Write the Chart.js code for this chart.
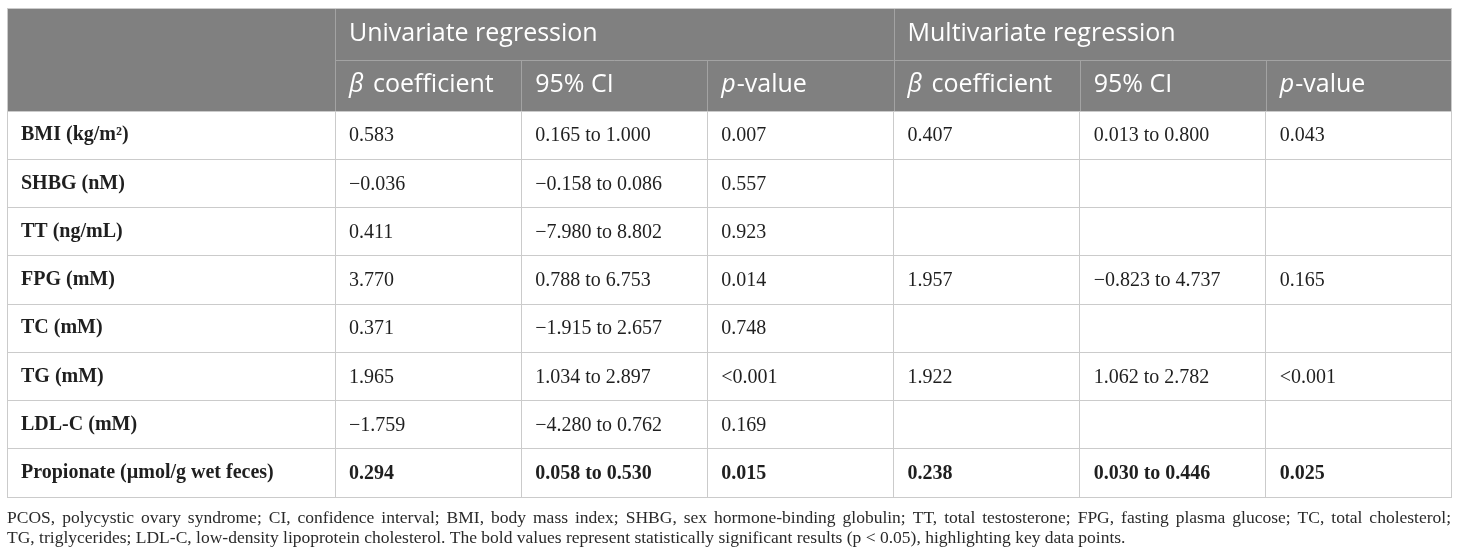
<!DOCTYPE html>
<html>
<head>
<meta charset="utf-8">
<title>Regression table</title>
<script src="https://cdn.jsdelivr.net/npm/chart.js@4.4.1/dist/chart.umd.min.js"></script>
<style>
  html, body { margin: 0; padding: 0; background: #fff; }
  #wrap { width: 1460px; height: 559px; position: relative; }
</style>
</head>
<body>
<div id="wrap"><canvas id="regTable"></canvas></div>
<script>
// Table content
const groupHeaders = ['Univariate regression', 'Multivariate regression'];
const colHeaders = ['β coefficient', '95% CI', 'p-value', 'β coefficient', '95% CI', 'p-value'];
const rowLabels = ['BMI (kg/m²)', 'SHBG (nM)', 'TT (ng/mL)', 'FPG (mM)', 'TC (mM)', 'TG (mM)', 'LDL-C (mM)', 'Propionate (µmol/g wet feces)'];

const uniBeta = ['0.583', '−0.036', '0.411', '3.770', '0.371', '1.965', '−1.759', '0.294'];
const uniCI = ['0.165 to 1.000', '−0.158 to 0.086', '−7.980 to 8.802', '0.788 to 6.753', '−1.915 to 2.657', '1.034 to 2.897', '−4.280 to 0.762', '0.058 to 0.530'];
const uniP = ['0.007', '0.557', '0.923', '0.014', '0.748', '<0.001', '0.169', '0.015'];
const multiBeta = ['0.407', null, null, '1.957', null, '1.922', null, '0.238'];
const multiCI = ['0.013 to 0.800', null, null, '−0.823 to 4.737', null, '1.062 to 2.782', null, '0.030 to 0.446'];
const multiP = ['0.043', null, null, '0.165', null, '<0.001', null, '0.025'];

// rows printed in bold (significant)
const boldRows = [7];

const footnote = [
  'PCOS, polycystic ovary syndrome; CI, confidence interval; BMI, body mass index; SHBG, sex hormone-binding globulin; TT, total testosterone; FPG, fasting plasma glucose; TC, total cholesterol;',
  'TG, triglycerides; LDL-C, low-density lipoprotein cholesterol. The bold values represent statistically significant results (p < 0.05), highlighting key data points.'
];

const columns = [uniBeta, uniCI, uniP, multiBeta, multiCI, multiP];
// unique keys for the column category axis (headers repeat per group)
const colKeys = colHeaders.map((h, c) => groupHeaders[Math.floor(c / 3)] + ' / ' + h);

// layout / style
const TABLE_LEFT = 7, TABLE_TOP = 8;
const HEADER_BG = '#808080';
const HEADER_LINE = '#a3a3a3';
const GRID = '#cbcbcb';
const TEXT = '#1f1f1f';
const SERIF = '"Liberation Serif", "DejaVu Serif", serif';
const SANS = '"Open Sans", "Noto Sans", sans-serif';
const CELL_PAD = 14;
const HEAD_SIZE = 25;
const BODY_SIZE = 20;

// one dataset per column, one point per cell
const datasets = columns.map((col, c) => ({
  label: colHeaders[c],
  data: col.map((v, r) => ({ x: colKeys[c], y: rowLabels[r] })),
  pointRadius: 0,
  pointHoverRadius: 0
}));

function drawHeader(ctx, text, x, y) {
  // italic lead for beta / p
  let lead = '';
  if (text.startsWith('β')) lead = 'β';
  else if (text.startsWith('p-')) lead = 'p';
  const rest = text.slice(lead.length);
  if (lead) {
    ctx.font = 'italic ' + HEAD_SIZE + 'px ' + SANS;
    ctx.fillText(lead, x, y);
    x += ctx.measureText(lead).width + (lead === 'β' ? 3 : 1);
  }
  ctx.font = HEAD_SIZE + 'px ' + SANS;
  ctx.fillText(rest, x, y);
}

function justifyLine(ctx, text, x, y, width) {
  const words = text.split(' ');
  const total = words.reduce((s, w) => s + ctx.measureText(w).width, 0);
  const gap = (width - total) / (words.length - 1);
  let cx = x;
  words.forEach(w => {
    ctx.fillText(w, cx, y);
    cx += ctx.measureText(w).width + gap;
  });
}

const tablePlugin = {
  id: 'tablePlugin',
  beforeDraw(chart) {
    const { ctx, chartArea } = chart;
    ctx.save();
    ctx.fillStyle = '#ffffff';
    ctx.fillRect(0, 0, chart.width, chart.height);
    ctx.fillStyle = HEADER_BG;
    ctx.fillRect(TABLE_LEFT, TABLE_TOP, chartArea.right - TABLE_LEFT, chartArea.top - TABLE_TOP);
    ctx.restore();
  },
  afterDraw(chart) {
    const { ctx, chartArea, scales: { x } } = chart;
    const step = x.width / colHeaders.length;
    const midY = TABLE_TOP + (chartArea.top - TABLE_TOP) / 2;
    ctx.save();

    // header lines
    ctx.strokeStyle = HEADER_LINE;
    ctx.lineWidth = 1;
    ctx.beginPath();
    ctx.moveTo(chartArea.left, Math.round(midY) + 0.5);
    ctx.lineTo(chartArea.right, Math.round(midY) + 0.5);
    colHeaders.forEach((h, c) => {
      const xl = Math.round(x.getPixelForValue(c) - step / 2) + 0.5;
      const full = c % 3 === 0;
      ctx.moveTo(xl, full ? TABLE_TOP : Math.round(midY));
      ctx.lineTo(xl, chartArea.top);
    });
    ctx.stroke();

    // header text
    ctx.fillStyle = '#ffffff';
    ctx.textBaseline = 'middle';
    ctx.textAlign = 'left';
    groupHeaders.forEach((g, i) => {
      const xl = x.getPixelForValue(i * 3) - step / 2 + CELL_PAD;
      ctx.font = HEAD_SIZE + 'px ' + SANS;
      ctx.fillText(g, xl, (TABLE_TOP + midY) / 2);
    });
    colHeaders.forEach((h, c) => {
      const xl = x.getPixelForValue(c) - step / 2 + CELL_PAD;
      drawHeader(ctx, h, xl, (midY + chartArea.top) / 2);
    });

    // cell text at each point element
    ctx.fillStyle = TEXT;
    chart.data.datasets.forEach((ds, c) => {
      const meta = chart.getDatasetMeta(c);
      meta.data.forEach((pt, r) => {
        const v = columns[c][r];
        if (v == null) return;
        ctx.font = (boldRows.includes(r) ? 'bold ' : '') + BODY_SIZE + 'px ' + SERIF;
        ctx.fillText(v, pt.x - step / 2 + CELL_PAD, pt.y + 1);
      });
    });

    // outer frame
    ctx.strokeStyle = GRID;
    ctx.strokeRect(TABLE_LEFT + 0.5, TABLE_TOP + 0.5, chartArea.right - TABLE_LEFT - 1, chartArea.bottom - TABLE_TOP);

    // footnote
    ctx.fillStyle = '#2a2a2a';
    ctx.textBaseline = 'alphabetic';
    const width = chartArea.right - TABLE_LEFT - 1;
    ctx.font = '16px ' + SERIF;
    const natural = ctx.measureText(footnote[0]).width;
    const size = Math.min(17.5, 16 * (width + 4) / natural);
    ctx.font = size.toFixed(2) + 'px ' + SERIF;
    justifyLine(ctx, footnote[0], TABLE_LEFT, chartArea.bottom + 26, width);
    ctx.fillText(footnote[1], TABLE_LEFT, chartArea.bottom + 46);
    ctx.restore();
  }
};

new Chart(document.getElementById('regTable'), {
  type: 'scatter',
  data: { datasets: datasets },
  options: {
    responsive: true,
    maintainAspectRatio: false,
    animation: false,
    events: [],
    layout: { padding: { left: 21, top: 111, right: 8, bottom: 62 } },
    plugins: {
      legend: { display: false },
      tooltip: { enabled: false }
    },
    scales: {
      x: {
        type: 'category',
        labels: colKeys,
        position: 'top',
        offset: true,
        ticks: { display: false },
        grid: { offset: true, color: GRID, drawTicks: false },
        border: { display: false }
      },
      y: {
        type: 'category',
        labels: rowLabels,
        offset: true,
        afterFit: (scale) => { scale.width = 314; },
        ticks: {
          autoSkip: false,
          crossAlign: 'far',
          color: TEXT,
          font: { family: SERIF, size: 20, weight: 'bold' }
        },
        grid: { offset: true, color: GRID, tickColor: GRID, drawTicks: true, tickLength: 328 },
        border: { display: true, color: GRID }
      }
    }
  },
  plugins: [tablePlugin]
});
</script>
</body>
</html>
